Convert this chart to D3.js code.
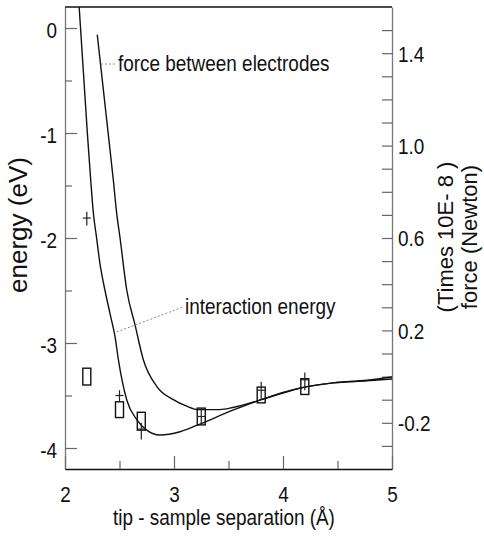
<!DOCTYPE html>
<html>
<head>
<meta charset="utf-8">
<script src="https://cdn.jsdelivr.net/npm/d3@7"></script>
<style>
  body { margin: 0; background: #fff; }
  text { font-family: "Liberation Sans", Arial, sans-serif; fill: #111; }
</style>
</head>
<body>
<script>
var svgWidth = 484;
var svgHeight = 536;

// plot frame (pixels)
var frame = { left: 65, right: 392, top: 7, bottom: 469 };

// interaction energy curve (eV, left axis)
var energyX = [2.13, 2.205, 2.236, 2.26, 2.29, 2.32, 2.367, 2.413, 2.459, 2.49, 2.566, 2.658, 2.75, 2.87, 3.055, 3.22, 3.54, 3.80, 3.99, 4.16, 4.46, 4.77, 5.0];
var energyY = [0.2, -1.0, -1.45, -1.76, -2.0, -2.24, -2.5, -2.72, -2.94, -3.16, -3.54, -3.73, -3.83, -3.876, -3.845, -3.78, -3.64, -3.54, -3.48, -3.43, -3.38, -3.36, -3.343];

// force between electrodes (10E-8 N, right axis)
var forceX = [2.296, 2.396, 2.443, 2.474, 2.505, 2.566, 2.642, 2.718, 2.841, 2.994, 3.116, 3.223, 3.42, 3.54, 3.80, 3.99, 4.16, 4.46, 4.77, 5.0];
var forceY = [1.48, 1.054, 0.852, 0.708, 0.600, 0.376, 0.225, 0.074, -0.042, -0.100, -0.128, -0.143, -0.143, -0.134, -0.100, -0.070, -0.049, -0.027, -0.016, -0.002];

// box markers (eV range)
var boxX = [2.2, 2.5, 2.7, 3.25, 3.8, 4.2];
var boxTop = [-3.24, -3.56, -3.66, -3.62, -3.42, -3.34];
var boxBottom = [-3.40, -3.71, -3.83, -3.78, -3.57, -3.49];

// cross markers with error bars (eV)
var crossX = [2.2, 2.5, 2.7, 3.25, 3.8, 4.2];
var crossE = [-1.81, -3.50, -3.82, -3.70, -3.45, -3.35];
var crossHi = [-1.75, -3.45, -3.76, -3.62, -3.37, -3.28];
var crossLo = [-1.88, -3.56, -3.92, -3.78, -3.54, -3.45];

// ticks
var xTicks = [2, 3, 4, 5];
var xMinor = [2.5, 3.5, 4.5];
var eTicks = [0, -1, -2, -3, -4];
var eMinor = [-0.5, -1.5, -2.5, -3.5];
var fTicks = [1.4, 1.0, 0.6, 0.2, -0.2];
var fTickLabels = ["1.4", "1.0", "0.6", "0.2", "-0.2"];
var fMinor = [1.5, 1.3, 1.2, 1.1, 0.9, 0.8, 0.7, 0.5, 0.4, 0.3, 0.1, 0.0, -0.1, -0.3];

// curve labels: [x0, e0, x1, e1] leader then text
var labelText = ["force between electrodes", "interaction energy"];
var labelLeader = [[2.328, -0.343, 2.468, -0.343], [2.474, -2.895, 3.083, -2.657]];

var svg = d3.select("body")
  .append("svg")
  .attr("width", svgWidth)
  .attr("height", svgHeight);

var x = d3.scaleLinear().domain([2, 5]).range([frame.left, frame.right]);
var yE = d3.scaleLinear().domain([0.2, -4.2]).range([frame.top, frame.bottom]);
var yF = d3.scaleLinear().domain([1.6, -0.4]).range([frame.top, frame.bottom]);

// squeeze horizontal text a bit (the figure is slightly narrow)
function condense(sel, k) {
  sel.each(function() {
    var w = this.getComputedTextLength();
    this.setAttribute("textLength", w * k);
    this.setAttribute("lengthAdjust", "spacingAndGlyphs");
  });
}

// plain hyphen minus like the original
var plain = d => String(d);

// left axis
var leftAxis = svg.append("g")
  .attr("transform", `translate(${frame.left},0)`)
  .call(d3.axisLeft(yE).tickValues(eTicks).tickSize(-12).tickPadding(8).tickSizeOuter(0).tickFormat(plain));
svg.append("g")
  .attr("transform", `translate(${frame.left},0)`)
  .call(d3.axisLeft(yE).tickValues(eMinor).tickSize(-7).tickSizeOuter(0).tickFormat(""))
  .select(".domain").remove();

// right axis
var rightAxis = svg.append("g")
  .attr("transform", `translate(${frame.right},0)`)
  .call(d3.axisRight(yF).tickValues(fTicks).tickSize(-10).tickPadding(6).tickSizeOuter(0)
    .tickFormat((d, i) => fTickLabels[i]));
svg.append("g")
  .attr("transform", `translate(${frame.right},0)`)
  .call(d3.axisRight(yF).tickValues(fMinor).tickSize(-10).tickSizeOuter(0).tickFormat(""))
  .select(".domain").remove();

// bottom axis
var bottomAxis = svg.append("g")
  .attr("transform", `translate(0,${frame.bottom})`)
  .call(d3.axisBottom(x).tickValues(xTicks).tickSize(-13).tickPadding(17).tickSizeOuter(0).tickFormat(plain));
svg.append("g")
  .attr("transform", `translate(0,${frame.bottom})`)
  .call(d3.axisBottom(x).tickValues(xMinor).tickSize(-8).tickSizeOuter(0).tickFormat(""))
  .select(".domain").remove();

svg.selectAll(".tick line").attr("stroke", "#666").attr("stroke-width", 1.2);
leftAxis.select(".domain").attr("stroke", "#777").attr("stroke-width", 1.3);
rightAxis.select(".domain").attr("stroke", "#777").attr("stroke-width", 1.3);
bottomAxis.select(".domain").attr("stroke", "#111").attr("stroke-width", 1.6);

// top border
svg.append("line")
  .attr("x1", frame.left).attr("x2", frame.right)
  .attr("y1", frame.top).attr("y2", frame.top)
  .attr("stroke", "#111").attr("stroke-width", 1.6);

svg.selectAll(".tick text")
  .style("font-family", '"Liberation Sans", Arial, sans-serif')
  .style("font-size", "22px")
  .attr("fill", "#111");
leftAxis.selectAll(".tick text").attr("dy", "0.42em");
rightAxis.selectAll(".tick text").attr("dy", "0.36em");
svg.selectAll(".tick text").call(condense, 0.86);

// curves
var energyLine = d3.line()
  .x((d, i) => x(energyX[i]))
  .y((d, i) => yE(energyY[i]))
  .curve(d3.curveMonotoneX);

var forceLine = d3.line()
  .x((d, i) => x(forceX[i]))
  .y((d, i) => yF(forceY[i]))
  .curve(d3.curveMonotoneX);

svg.append("path")
  .attr("d", energyLine(energyX))
  .attr("fill", "none")
  .attr("stroke", "#111")
  .attr("stroke-width", 1.4);

svg.append("path")
  .attr("d", forceLine(forceX))
  .attr("fill", "none")
  .attr("stroke", "#111")
  .attr("stroke-width", 1.4);

// box markers
svg.selectAll("rect.box")
  .data(boxX)
  .enter()
  .append("rect")
  .attr("class", "box")
  .attr("x", d => x(d) - 4)
  .attr("y", (d, i) => yE(boxTop[i]))
  .attr("width", 8)
  .attr("height", (d, i) => yE(boxBottom[i]) - yE(boxTop[i]))
  .attr("fill", "none")
  .attr("stroke", "#111")
  .attr("stroke-width", 1.4);

// cross markers
var cross = svg.selectAll("g.cross")
  .data(crossX)
  .enter()
  .append("g")
  .attr("class", "cross");

cross.append("line")
  .attr("x1", d => x(d)).attr("x2", d => x(d))
  .attr("y1", (d, i) => yE(crossHi[i]))
  .attr("y2", (d, i) => yE(crossLo[i]))
  .attr("stroke", "#222").attr("stroke-width", 1.2);

cross.append("line")
  .attr("x1", d => x(d) - 4).attr("x2", d => x(d) + 4)
  .attr("y1", (d, i) => yE(crossE[i]))
  .attr("y2", (d, i) => yE(crossE[i]))
  .attr("stroke", "#222").attr("stroke-width", 1.2);

// curve labels with dotted leaders
labelLeader.forEach(function(p, i) {
  svg.append("line")
    .attr("x1", x(p[0])).attr("y1", yE(p[1]))
    .attr("x2", x(p[2])).attr("y2", yE(p[3]))
    .attr("stroke", "#888")
    .attr("stroke-width", 1)
    .attr("stroke-dasharray", "2,2");
  svg.append("text")
    .attr("x", x(p[2]) + 2)
    .attr("y", yE(p[3]) + 7)
    .style("font-size", "22px")
    .text(labelText[i])
    .call(condense, 0.86);
});

// axis titles
svg.append("text")
  .attr("x", 224)
  .attr("y", 525)
  .attr("text-anchor", "middle")
  .style("font-size", "22px")
  .text("tip - sample separation (Å)")
  .call(condense, 0.86);

svg.append("text")
  .attr("transform", "translate(27,225) rotate(-90)")
  .attr("text-anchor", "middle")
  .style("font-size", "26px")
  .text("energy (eV)");

svg.append("text")
  .attr("transform", "translate(453,237) rotate(-90)")
  .attr("text-anchor", "middle")
  .style("font-size", "22px")
  .text("(Times 10E- 8 )");

svg.append("text")
  .attr("transform", "translate(477,237) rotate(-90)")
  .attr("text-anchor", "middle")
  .style("font-size", "22px")
  .text("force (Newton)");
</script>
</body>
</html>
